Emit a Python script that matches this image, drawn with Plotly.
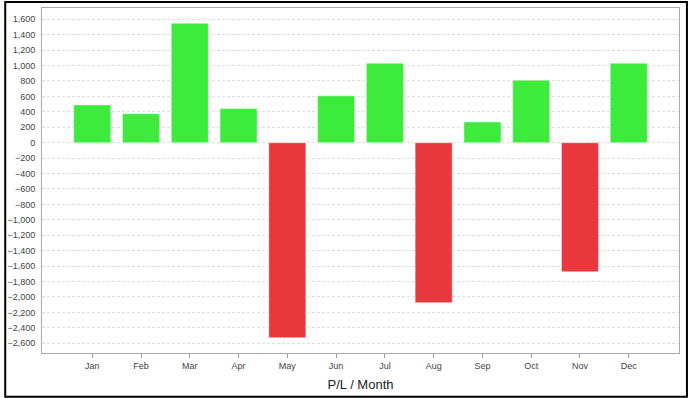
import plotly.graph_objects as go

months = ["Jan", "Feb", "Mar", "Apr", "May", "Jun", "Jul", "Aug", "Sep", "Oct", "Nov", "Dec"]
pl_values = [490, 375, 1548, 444, -2527, 608, 1031, -2074, 268, 811, -1673, 1031]
y_tick_vals = list(range(-2600, 1601, 200))

GREEN = "#3deb3d"
RED = "#e8383d"
colors = [GREEN if v >= 0 else RED for v in pl_values]

W, H = 688, 398
L, R, T, B = 38, 9, 7, 45

fig = go.Figure()
fig.add_trace(go.Bar(
    x=list(range(len(months))), y=pl_values,
    marker=dict(color=colors, line=dict(color="rgba(255,255,255,0.45)", width=1)),
    width=0.76, hoverinfo="x+y",
))

pw = W - L - R
ph = H - T - B
def px(x):
    return (x - L) / pw
def py(y):
    return (H - B - y) / ph

fig.update_layout(
    width=W, height=H,
    margin=dict(l=L, r=R, t=T, b=B),
    paper_bgcolor="white", plot_bgcolor="white",
    showlegend=False,
    font=dict(family="Liberation Sans, Arial, sans-serif", size=9, color="#444"),
    xaxis=dict(
        range=[-1.03, 12.03],
        tickmode="array", tickvals=list(range(len(months))), ticktext=months,
        ticks="outside", ticklen=4, tickcolor="#999", tickwidth=1,
        showline=True, linecolor="#aaa", linewidth=1, mirror=True,
        showgrid=False, zeroline=False,
        tickfont=dict(size=9, color="#444"),
        title=dict(text="P/L / Month", font=dict(size=13, color="#222"), standoff=10),
    ),
    yaxis=dict(
        range=[-2726, 1746],
        tickmode="array", tickvals=y_tick_vals,
        tickformat=",d",
        ticks="", showline=True, linecolor="#aaa", linewidth=1, mirror=True,
        showgrid=True, gridcolor="#dedede", griddash="3px,2px", gridwidth=1,
        zeroline=False,
        tickfont=dict(size=9, color="#444"),
        ticklabelstandoff=4,
    ),
    shapes=[dict(
        type="rect", xref="paper", yref="paper",
        x0=px(1), x1=px(W - 1), y0=py(H - 1), y1=py(1),
        line=dict(color="black", width=2), fillcolor="rgba(0,0,0,0)", layer="above",
    )],
)

fig.write_html(
    "out.html",
    config={"displayModeBar": False},
    post_script="document.body.style.margin='0';document.body.style.overflow='hidden';",
)
